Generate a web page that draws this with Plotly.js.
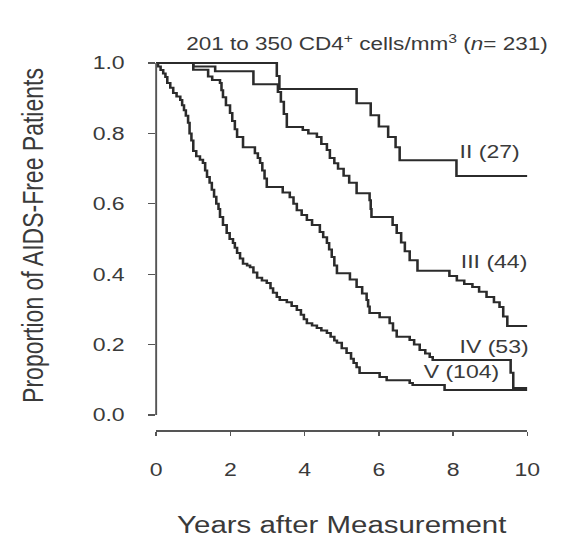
<!DOCTYPE html>
<html>
<head>
<meta charset="utf-8">
<script src="https://cdn.plot.ly/plotly-3.0.1.min.js"></script>
<style>
  html, body { margin: 0; padding: 0; background: #fff; overflow: hidden; }
  /* the figure is laid out narrow, then widened to the page */
  #chart { width: 439px; height: 539px; transform: scaleX(1.28); transform-origin: 0 0; }
</style>
</head>
<body>
<div id="chart"></div>
<script>
// Kaplan-Meier AIDS-free proportions by stage group (years after measurement)
const tII  = [0, 3.25, 3.32, 5.40, 5.78, 6.00, 6.25, 6.45, 6.56, 8.09, 10];
const sII  = [1.0, 0.963, 0.926, 0.886, 0.852, 0.82, 0.79, 0.761, 0.724, 0.679, 0.679];

const tIII = [0, 1.00, 1.59, 2.62, 3.28, 3.36, 3.44, 3.52, 3.95, 4.10, 4.33, 4.45, 4.60, 4.68, 4.80,
              4.90, 5.05, 5.20, 5.40, 5.75, 5.78, 5.80, 6.37, 6.48, 6.60, 6.70, 6.83, 7.04, 7.90, 8.10,
              8.30, 8.52, 8.70, 8.90, 9.10, 9.25, 9.35, 9.46, 10];
const sIII = [1.0, 0.99, 0.977, 0.94, 0.918, 0.89, 0.855, 0.818, 0.81, 0.80, 0.79, 0.77, 0.753, 0.73, 0.715,
              0.70, 0.68, 0.66, 0.63, 0.61, 0.585, 0.5625, 0.54, 0.517, 0.49, 0.465, 0.44, 0.41, 0.395, 0.382,
              0.372, 0.364, 0.35, 0.335, 0.32, 0.307, 0.28, 0.253, 0.253];

const tIV  = [0, 1.00, 1.40, 1.51, 1.72, 1.76, 1.80, 1.88, 1.99, 2.05, 2.12, 2.18, 2.34, 2.66, 2.74,
              2.80, 2.86, 2.92, 2.98, 3.41, 3.60, 3.70, 3.79, 3.92, 4.06, 4.20, 4.41, 4.50, 4.60, 4.66,
              4.73, 4.80, 4.87, 5.22, 5.40, 5.55, 5.67, 5.71, 5.75, 6.02, 6.29, 6.38, 6.48, 6.83, 6.95,
              7.10, 7.25, 7.37, 7.45, 9.55, 9.62, 10];
const sIV  = [1.0, 0.981, 0.962, 0.952, 0.943, 0.923, 0.903, 0.88, 0.858, 0.835, 0.812, 0.79, 0.761, 0.744, 0.73,
              0.716, 0.695, 0.672, 0.648, 0.632, 0.619, 0.60, 0.582, 0.568, 0.554, 0.54, 0.52, 0.505, 0.489, 0.47,
              0.449, 0.425, 0.403, 0.385, 0.364, 0.345, 0.327, 0.308, 0.29, 0.278, 0.261, 0.24, 0.222, 0.213, 0.20,
              0.185, 0.175, 0.165, 0.156, 0.12, 0.077, 0.077];

const tV   = [0, 0.05, 0.12, 0.19, 0.25, 0.30, 0.38, 0.46, 0.55, 0.65, 0.70, 0.75, 0.80, 0.86, 0.90,
              0.95, 1.00, 1.08, 1.18, 1.26, 1.32, 1.37, 1.44, 1.50, 1.56, 1.62, 1.68, 1.72, 1.80, 1.90,
              1.98, 2.07, 2.12, 2.18, 2.26, 2.34, 2.45, 2.53, 2.62, 2.72, 2.85, 2.98, 3.08, 3.15, 3.25,
              3.33, 3.52, 3.65, 3.79, 3.90, 3.98, 4.06, 4.20, 4.33, 4.45, 4.60, 4.70, 4.80, 4.87, 5.00,
              5.13, 5.25, 5.32, 5.40, 5.48, 6.02, 6.21, 6.83, 6.91, 7.77, 10];
const sV   = [1.0, 0.99, 0.98, 0.97, 0.96, 0.943, 0.93, 0.915, 0.905, 0.895, 0.88, 0.866, 0.85, 0.83, 0.80,
              0.78, 0.75, 0.735, 0.725, 0.716, 0.695, 0.676, 0.66, 0.64, 0.62, 0.60, 0.585, 0.5625, 0.54, 0.517,
              0.50, 0.489, 0.475, 0.46, 0.445, 0.43, 0.425, 0.42, 0.405, 0.39, 0.382, 0.375, 0.36, 0.347, 0.335,
              0.327, 0.32, 0.31, 0.298, 0.285, 0.272, 0.261, 0.254, 0.247, 0.24, 0.233, 0.222, 0.212, 0.205, 0.19,
              0.176, 0.16, 0.148, 0.136, 0.119, 0.108, 0.099, 0.091, 0.085, 0.071, 0.071];

const groupLabels = ['II (27)', 'III (44)', 'IV (53)', 'V (104)'];
const xTicks = [0, 2, 4, 6, 8, 10];
const yTicks = [0, 0.2, 0.4, 0.6, 0.8, 1.0];

const LINE = '#2b2b2b';
const TEXT = '#3a3a3a';
const FONT = 'Liberation Sans, Arial, Helvetica, sans-serif';

const series = [[tII, sII], [tIII, sIII], [tIV, sIV], [tV, sV]];
const traces = series.map(([t, s], i) => ({
  x: t, y: s, type: 'scatter', mode: 'lines', name: groupLabels[i],
  line: { shape: 'hv', color: LINE, width: 2 }, hoverinfo: 'skip'
}));

// label placement next to each curve's tail
const labelPos = [[8.99, 0.747], [9.09, 0.435], [9.09, 0.193], [8.24, 0.122]];
const annotations = groupLabels.map((txt, i) => ({
  text: txt, x: labelPos[i][0], y: labelPos[i][1], xref: 'x', yref: 'y',
  xanchor: 'center', yanchor: 'middle', showarrow: false,
  font: { family: FONT, size: 18, color: TEXT }
}));

const layout = {
  width: 439, height: 539,
  margin: { l: 122, r: 27, t: 56, b: 109 },
  paper_bgcolor: '#fff', plot_bgcolor: '#fff',
  showlegend: false,
  font: { family: FONT, color: TEXT },
  title: {
    text: '201 to 350 CD4<sup>+</sup> cells/mm<sup>3</sup> (<i>n</i>= 231)',
    font: { family: FONT, size: 17.6, color: TEXT },
    x: 0.653, xref: 'container', xanchor: 'center',
    y: 0.918, yref: 'container', yanchor: 'middle'
  },
  xaxis: {
    range: [0, 10], tickvals: xTicks, ticktext: xTicks.map(String),
    anchor: 'free', position: 0,
    showline: true, linecolor: '#555', linewidth: 1.5,
    ticks: 'outside', ticklen: 4, tickcolor: '#555', tickwidth: 1.2,
    showgrid: false, zeroline: false,
    tickfont: { family: FONT, size: 18, color: TEXT },
    ticklabelstandoff: 19,
    title: { text: 'Years after Measurement', font: { family: FONT, size: 23, color: TEXT }, standoff: 38 }
  },
  yaxis: {
    range: [0, 1.02], domain: [0.0401, 1],
    tickvals: yTicks, ticktext: yTicks.map(v => v.toFixed(1)),
    showline: false, ticks: 'outside', ticklen: 5, tickcolor: '#555', tickwidth: 1.2,
    showgrid: false, zeroline: false,
    tickfont: { family: FONT, size: 18, color: TEXT },
    ticklabelstandoff: 15,
    title: { text: 'Proportion of AIDS-Free Patients', font: { family: FONT, size: 23, color: TEXT }, standoff: 31 }
  },
  shapes: [{
    type: 'line', xref: 'paper', x0: 0, x1: 0, yref: 'y', y0: 0, y1: 1,
    line: { color: '#555', width: 1.5 }
  }],
  annotations: annotations
};

Plotly.newPlot('chart', traces, layout, { displayModeBar: false, staticPlot: true });
</script>
</body>
</html>
